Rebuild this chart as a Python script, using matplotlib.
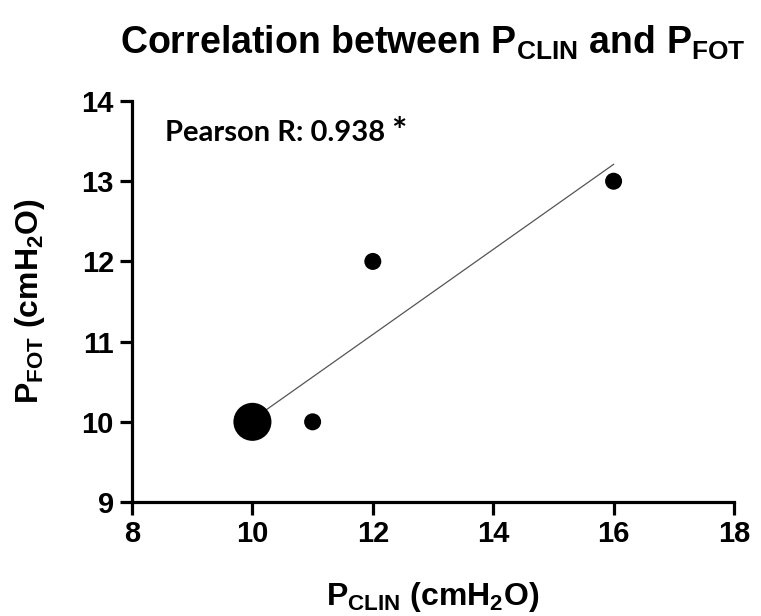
import matplotlib
matplotlib.use("Agg")
import matplotlib.pyplot as plt
import numpy as np

# paired pressure readings (cmH2O), one entry per subject
p_clin = [10, 10, 10, 10, 10, 11, 12, 16]
p_fot = [10, 10, 10, 10, 10, 10, 12, 13]

x_ticks = [8, 10, 12, 14, 16, 18]
y_ticks = [9, 10, 11, 12, 13, 14]

plt.rcParams['font.family'] = ['Liberation Sans', 'DejaVu Sans']
plt.rcParams['mathtext.fontset'] = 'custom'
plt.rcParams['mathtext.rm'] = 'Liberation Sans'
plt.rcParams['mathtext.bf'] = 'Liberation Sans:bold'
plt.rcParams['mathtext.it'] = 'Liberation Sans:italic'

x = np.array(p_clin, dtype=float)
y = np.array(p_fot, dtype=float)

# overlapping subjects are drawn as one dot scaled by count
pts, counts = np.unique(np.column_stack([x, y]), axis=0, return_counts=True)

slope, intercept = np.polyfit(x, y, 1)
r = np.corrcoef(x, y)[0, 1]

fig = plt.figure(figsize=(7.61, 6.16), dpi=100)
ax = fig.add_axes([0.1735, 0.185, 0.791, 0.651])

ax.scatter(pts[:, 0], pts[:, 1], s=150 * counts, color='black', zorder=3,
           linewidths=0)

fit_x = np.array([x.min(), x.max()])
ax.plot(fit_x, slope * fit_x + intercept, color='#555555', linewidth=0.9,
        zorder=2)

ax.set_xlim(8, 18)
ax.set_ylim(9, 14)
ax.set_xticks(x_ticks)
ax.set_yticks(y_ticks)
for side in ('top', 'right'):
    ax.spines[side].set_visible(False)
for side in ('left', 'bottom'):
    ax.spines[side].set_linewidth(2.3)
ax.tick_params(width=2.3, length=9, labelsize=21, pad=4)
for lab in ax.get_xticklabels() + ax.get_yticklabels():
    lab.set_fontweight('bold')

ax.set_xlabel(r'$\mathbf{P_{CLIN}}$ (cmH$_\mathbf{2}$O)', fontsize=23,
              fontweight='bold')
ax.set_ylabel(r'$\mathbf{P_{FOT}}$ (cmH$_\mathbf{2}$O)', fontsize=23,
              fontweight='bold')
ax.xaxis.set_label_coords(0.5, -0.195)
ax.yaxis.set_label_coords(-0.142, 0.5)

fig.text(0.569, 0.93,
         r'Correlation between $\mathbf{P_{CLIN}}$ and $\mathbf{P_{FOT}}$',
         ha='center', va='center', fontsize=27, fontweight='bold')

pearson = ax.text(0.055, 0.9, f'Pearson R: {r:.3f}', transform=ax.transAxes,
                  fontsize=21, fontweight='bold',
                  family=['Lato', 'DejaVu Sans'], ha='left', va='baseline')
ax.annotate('*', xy=(1, 1), xycoords=pearson, xytext=(4, 3),
            textcoords='offset points', fontsize=26, fontweight='bold',
            family=['Lato', 'DejaVu Sans'], ha='left', va='top')

fig.savefig('out.png', dpi=100)
